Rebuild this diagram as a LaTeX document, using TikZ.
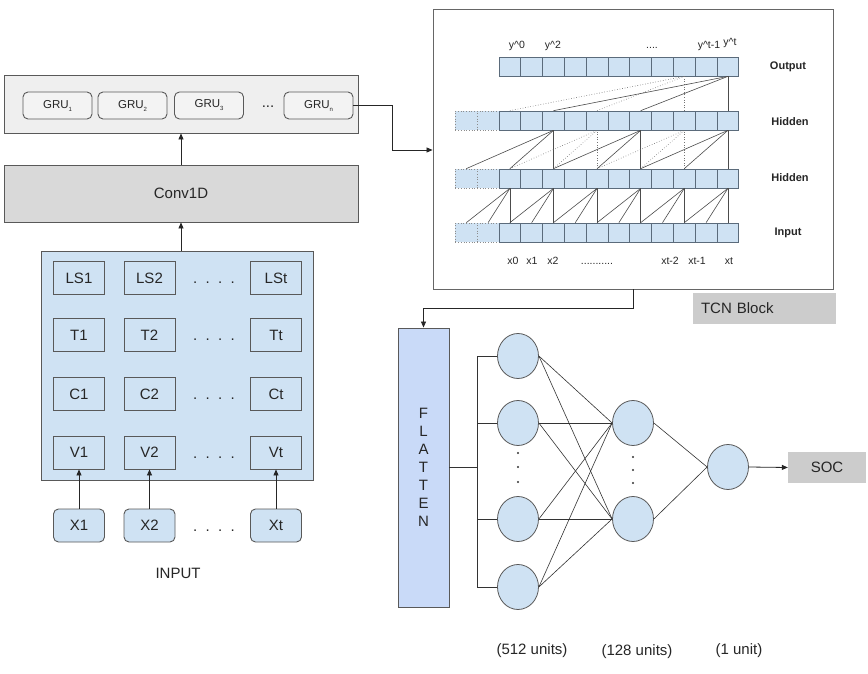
\documentclass[tikz,border=0pt]{standalone}
\usepackage{fontspec}
\setmainfont{Liberation Sans}
\usetikzlibrary{arrows.meta,shapes.geometric}
\definecolor{lblue}{HTML}{CFE2F3}
\definecolor{flatblue}{HTML}{C9DAF8}
\definecolor{bord}{HTML}{595959}
\definecolor{tcbord}{HTML}{5B6B7B}
\definecolor{convfill}{HTML}{D9D9D9}
\definecolor{grubgc}{HTML}{EFEFEF}
\definecolor{grufill}{HTML}{F3F3F3}
\definecolor{lblgray}{HTML}{CCCCCC}
\definecolor{txt}{HTML}{262626}
\newcommand\myfa{\fontsize{15}{18}\selectfont}
\newcommand\myfb{\fontsize{11}{13}\selectfont}
\newcommand\myfc{\fontsize{10.5}{12}\selectfont}
\newcommand\myfd{\fontsize{11.5}{13}\selectfont}
\newcommand\gsub[1]{\raisebox{-3pt}{\fontsize{6}{6}\selectfont #1}}
\begin{document}
\begin{tikzpicture}[x=1pt,y=-1pt,
  box/.style={draw=bord, line width=0.9pt, inner sep=0, font=\myfa, text=txt},
  cellbox/.style={box, fill=lblue, minimum width=51pt, minimum height=33pt},
  xbox/.style={cellbox, rounded corners=5pt},
  grubox/.style={draw=bord, line width=0.9pt, fill=grufill, rounded corners=5pt, minimum width=69pt, minimum height=27pt, inner sep=0, font=\myfd, text=txt},
  tc/.style={draw=tcbord, fill=lblue, line width=0.7pt, minimum width=21.8pt, minimum height=19pt, inner sep=0},
  tcd/.style={draw=black!45, fill=lblue, dotted, line width=0.7pt, minimum width=21.8pt, minimum height=19pt, inner sep=0},
  neuron/.style={ellipse, draw=bord, fill=lblue, minimum width=41pt, minimum height=45pt, inner sep=0, line width=0.8pt},
  arr/.style={-{Triangle[length=6pt,width=5pt]}, line width=0.8pt, draw=black!85},
  ln/.style={line width=0.6pt, draw=black!80},
  tl/.style={line width=0.6pt, draw=black!70},
  tld/.style={line width=0.6pt, draw=black!55, dotted},
  lbl/.style={font=\myfa, text=txt, inner sep=0},
  tlbl/.style={font=\myfb\bfseries, text=txt, inner sep=0},
  tsm/.style={font=\myfc, text=txt, inner sep=0, anchor=base},
  graylbl/.style={fill=lblgray, font=\myfa, text=txt, minimum height=31pt, inner sep=0}
]
\fill[white] (0,0) rectangle (868,674);
\useasboundingbox (0,0) rectangle (868,674);

% GRU block
\node[draw=bord, line width=0.9pt, fill=grubgc, minimum width=354pt, minimum height=58pt, inner sep=0] (grubg) at (181,104) {};
\node[grubox] (gru1) at (57.5,105.5) {GRU\gsub{1}};
\node[grubox] (gru2) at (132.5,105.5) {GRU\gsub{2}};
\node[grubox] (gru3) at (209,105.5) {GRU\gsub{3}};
\node[lbl] (grudots) at (268,107) {...};
\node[grubox] (grun) at (318.5,105.5) {GRU\gsub{n}};

% Conv1D
\node[box, fill=convfill, minimum width=354pt, minimum height=57pt] (conv) at (181,193.5) {Conv1D};

% Input grid
\node[box, fill=lblue, minimum width=272pt, minimum height=229pt] (grid) at (177,365.5) {};
\foreach \r/\y in {LS/278, T/335, C/394, V/452.5} {
  \node[cellbox] (\r1) at (79,\y) {\r1};
  \node[cellbox] (\r2) at (149.5,\y) {\r2};
  \node[cellbox] (\r t) at (276,\y) {\r t};
  \node[lbl] (\r dots) at (214,\y+5) {.\ \ .\ \ .\ \ .};
}
\node[xbox] (X1) at (79,525.5) {X1};
\node[xbox] (X2) at (149.5,525.5) {X2};
\node[xbox] (Xt) at (276,525.5) {Xt};
\node[lbl] (Xdots) at (214,530.5) {.\ \ .\ \ .\ \ .};
\draw[arr] (X1.north) -- (V1.south);
\draw[arr] (X2.north) -- (V2.south);
\draw[arr] (Xt.north) -- (Vt.south);
\node[lbl] (inputlbl) at (178,573) {INPUT};

\draw[arr] (conv.south |- grid.north) -- (conv.south);
\draw[arr] (conv.north) -- (grubg.south);

% TCN block
\node[draw=black!60, line width=0.9pt, fill=white, minimum width=400pt, minimum height=280pt, inner sep=0] (tcn) at (633,149) {};
\coordinate (bend) at (392,150);
\draw[arr] (grun.east) -| (bend) -- (bend -| tcn.west);

\foreach \j in {0,1} {
  \node[tcd] (xa\j) at ({466.3+21.8*\j},232.5) {};
  \node[tcd] (ha\j) at ({466.3+21.8*\j},178.5) {};
  \node[tcd] (hb\j) at ({466.3+21.8*\j},120.5) {};
}
\foreach \j in {2,...,12} {
  \node[tc] (xa\j) at ({466.3+21.8*\j},232.5) {};
  \node[tc] (ha\j) at ({466.3+21.8*\j},178.5) {};
  \node[tc] (hb\j) at ({466.3+21.8*\j},120.5) {};
  \node[tc] (ot\j) at ({466.3+21.8*\j},66.5) {};
}
% input -> hidden 1
\foreach \j in {2,4,...,12} {
  \pgfmathtruncatemacro\pa{\j-2}
  \pgfmathtruncatemacro\pb{\j-1}
  \draw[tl] (xa\pa.north) -- (ha\j.south);
  \draw[tl] (xa\pb.north) -- (ha\j.south);
  \draw[tl] (xa\j.north) -- (ha\j.south);
}
% hidden 1 -> hidden 2
\foreach \j/\s in {4/tl,6/tld,8/tl,10/tld,12/tl} {
  \pgfmathtruncatemacro\pa{\j-4}
  \pgfmathtruncatemacro\pb{\j-2}
  \draw[\s] (ha\pa.north) -- (hb\j.south);
  \draw[\s] (ha\pb.north) -- (hb\j.south);
  \draw[\s] (ha\j.north) -- (hb\j.south);
}
% hidden 2 -> output
\foreach \j/\s in {10/tld,12/tl} {
  \pgfmathtruncatemacro\pa{\j-8}
  \pgfmathtruncatemacro\pb{\j-4}
  \draw[\s] (hb\pa.north) -- (ot\j.south);
  \draw[\s] (hb\pb.north) -- (ot\j.south);
  \draw[\s] (hb\j.north) -- (ot\j.south);
}
\node[tlbl] (lout) at (788,67) {Output};
\node[tlbl] (lh2) at (790,122) {Hidden};
\node[tlbl] (lh1) at (790,178) {Hidden};
\node[tlbl] (lin) at (788,233) {Input};

\node[tsm] (y0) at (517,49) {y\^{}0};
\node[tsm] (y2) at (553,49) {y\^{}2};
\node[tsm] (ydots) at (652,49) {....};
\node[tsm] (ytm) at (709,49) {y\^{}t-1};
\node[tsm] (yt) at (730,46) {y\^{}t};

\node[tsm] (x0) at (513,264) {x0};
\node[tsm] (x1) at (532,264) {x1};
\node[tsm] (x2) at (553,264) {x2};
\node[tsm] (xdots) at (597,264) {...........};
\node[tsm] (xt2) at (670,264) {xt-2};
\node[tsm] (xt1) at (697,264) {xt-1};
\node[tsm] (xt) at (729,264) {xt};

\node[graylbl, text width=127pt, inner xsep=8pt, align=left] (tcnlbl) at (764.5,308.5) {TCN Block};

% Flatten
\node[box, fill=flatblue, minimum width=51pt, minimum height=279pt, align=center, font=\fontsize{15}{18}\selectfont] (flat) at (423.5,467.5) {F\\L\\A\\T\\T\\E\\N};
\draw[arr] (tcn.south) -- ++(0,19) -| (flat.north);

% Dense network
\node[neuron] (n1a) at (518,356) {};
\node[neuron] (n1b) at (518,423) {};
\node[neuron] (n1c) at (518,519) {};
\node[neuron] (n1d) at (518,587) {};
\node[neuron] (n2a) at (633,423) {};
\node[neuron] (n2b) at (633,519) {};
\node[neuron] (n3) at (728,467) {};
\foreach \yy in {453,467,482} \fill[black!80] (518,\yy) circle (1.1);
\foreach \yy in {457,470,483} \fill[black!80] (633,\yy) circle (1.1);

\coordinate (bus) at (477,467.5);
\draw[ln] (flat.east) -- (bus);
\draw[ln] (bus |- n1a) -- (bus |- n1d);
\foreach \n in {n1a,n1b,n1c,n1d} \draw[ln] (bus |- \n) -- (\n.west);
\foreach \a in {n1a,n1b,n1c,n1d} \foreach \b in {n2a,n2b} \draw[ln] (\a.east) -- (\b.west);
\foreach \b in {n2a,n2b} \draw[ln] (\b.east) -- (n3.west);

\node[graylbl, minimum width=78pt] (soc) at (827,467.5) {SOC};
\draw[arr] (n3.east) -- (soc.west);

\node[lbl] (u512) at (532,651) {(512 units)};
\node[lbl] (u128) at (637,652) {(128 units)};
\node[lbl] (u1) at (739,651) {(1 unit)};
\end{tikzpicture}
\end{document}
